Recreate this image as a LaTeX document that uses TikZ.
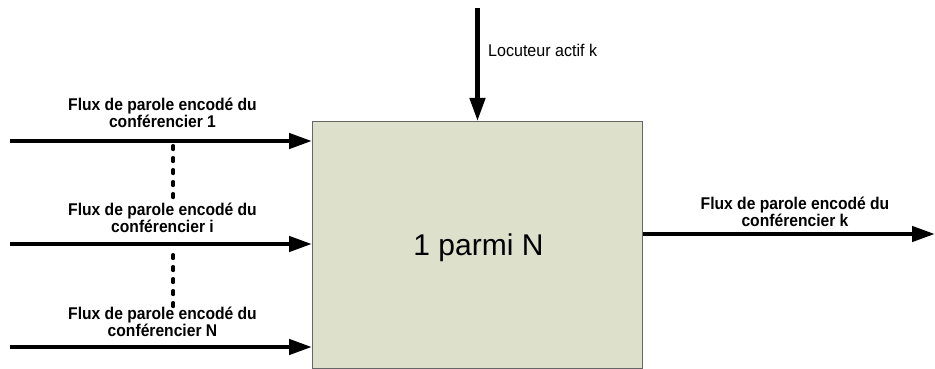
\documentclass[tikz,border=0pt]{standalone}
\usepackage{fontspec}
\setmainfont{Liberation Sans}
\newfontfamily\lblfont[FakeStretch=0.92]{Liberation Sans}
\newfontfamily\locfont[FakeStretch=0.945]{Liberation Sans}
\usetikzlibrary{arrows.meta}
\definecolor{boxfill}{RGB}{221,224,203}
\begin{document}
\begin{tikzpicture}[x=1pt,y=-1pt,
  flow/.style={line width=4.4pt,-{Triangle[length=23pt,width=15pt]}},
  lbl/.style={font=\lblfont\bfseries\fontsize{17}{17}\selectfont,align=center,inner sep=0pt,anchor=south},
  dots/.style={line width=3.8pt,line cap=round,dash pattern=on 3.4pt off 8.6pt}]
\useasboundingbox (0,0) rectangle (935,369);
\node[draw=black!60,line width=1.3pt,fill=boxfill,minimum width=330pt,minimum height=247pt,inner sep=0pt,anchor=north west] (box) at (312,121) {};
\node[font=\fontsize{30}{34}\selectfont,inner sep=0pt,anchor=base] (title) at (478.5,255) {1 parmi N};
\coordinate (topstart) at (477.5,8);
\draw[flow] (topstart) -- (box.north -| topstart);
\node[font=\locfont\fontsize{17}{21}\selectfont,anchor=base west,inner sep=0pt] (loc) at (488,56.7) {Locuteur actif k};
\coordinate (s1) at (10,141);
\coordinate (s2) at (10,244);
\coordinate (s3) at (10,347);
\draw[flow] (s1) -- (s1 -| box.west);
\draw[flow] (s2) -- (s2 -| box.west);
\draw[flow] (s3) -- (s3 -| box.west);
\coordinate (d1a) at (173.3,145.9);
\coordinate (d1b) at (173.3,202);
\coordinate (d2a) at (173.3,254.9);
\coordinate (d2b) at (173.3,310);
\draw[dots] (d1a) -- (d1b);
\draw[dots] (d2a) -- (d2b);
\node[lbl] (l1) at (162.5,128.3) {Flux de parole encodé du\\conférencier 1};
\node[lbl] (l2) at (162.5,233.3) {Flux de parole encodé du\\conférencier i};
\node[lbl] (l3) at (162.5,337) {Flux de parole encodé du\\conférencier N};
\coordinate (oend) at (935,234);
\draw[flow] (oend -| box.east) -- (oend);
\node[lbl] (lk) at (795,226.7) {Flux de parole encodé du\\conférencier k};
\end{tikzpicture}
\end{document}
